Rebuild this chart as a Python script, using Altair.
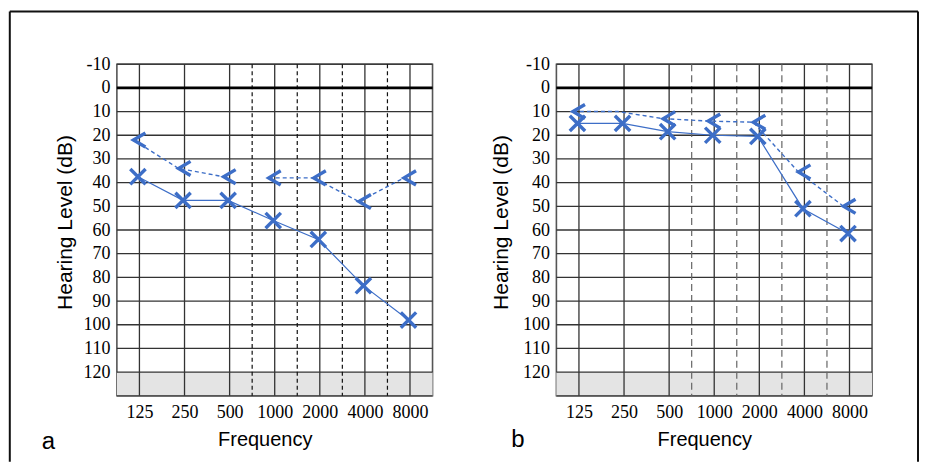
import altair as alt
import pandas as pd

# ---------------- data ----------------
freq_labels = ["125", "250", "500", "1000", "2000", "4000", "8000"]
octave_pos = [0, 1, 2, 3, 4, 5, 6]            # position of each test frequency (octave index)
mid_pos = [2.5, 3.5, 4.5, 5.5]                # half-octave (dashed) lines
db_lines = list(range(-10, 131, 10))          # hearing-level grid lines
db_ticks = list(range(-10, 121, 10))

# panel a
a_air = [37.5, 47.5, 47.5, 56, 64, 83.5, 98]
a_bone = [22, 34, 37.5, 38, 38, 48, 38]
a_bone_seg = [0, 0, 0, 1, 1, 1, 1]
a_bone_shown = [True, True, True, True, True, True, True]

# panel b
b_air = [15, 15, 18.5, 20, 20.5, 51, 61.5]
b_bone = [10, 10, 13, 14, 14.5, 35.5, 50]
b_bone_seg = [0, 0, 0, 0, 0, 0, 0]
b_bone_shown = [True, False, True, True, True, True, True]

# ---------------- style ----------------
BLUE = "#3d6ec7"
GRID = "#333333"
W, H = 316, 332

xscale = alt.Scale(domain=[-0.5, 6.5], nice=False, zero=False)
yscale = alt.Scale(domain=[-10, 130], reverse=True, nice=False, zero=False)

label_expr = "[" + ",".join("'%s'" % s for s in freq_labels) + "][datum.value]"

X_SHAPE = "M-1,-1L1,1M-1,1L1,-1"
LT_SHAPE = "M1.7,-1L0,0L1.7,1"


def panel(letter, air, bone, seg, shown, dash_color, dash_pattern,
          ytitle_x, letter_x, letter_y, frame=False):
    df = pd.DataFrame({"pos": octave_pos, "air": air, "bone": bone,
                       "seg": seg, "shown": shown})
    base = alt.Chart(df)

    yaxis = alt.Axis(values=db_ticks, labelExpr="'' + datum.value", ticks=False,
                     domain=False, grid=False,
                     labelPadding=7, labelFlush=False, labelOverlap=False,
                     title="Hearing Level (dB)", titleFontSize=21,
                     titleX=ytitle_x, titleY=158, titleAngle=270,
                     titleAlign="center", titleBaseline="middle")
    xaxis = alt.Axis(values=octave_pos, labelExpr=label_expr, ticks=False,
                     domain=False, grid=False, labelPadding=8, labelFlush=False,
                     labelOverlap=False, title="Frequency", titleFontSize=20,
                     titleX=W / 2 - 10, titleY=44, titleAlign="center",
                     titleBaseline="middle")

    def X(field):
        return alt.X(field, scale=xscale, axis=xaxis)

    def Y(field):
        return alt.Y(field, scale=yscale, axis=yaxis)

    shade = alt.Chart(pd.DataFrame({"pos": [-0.5], "pos2": [6.5], "db": [120], "db2": [130]})).mark_rect(
        color="#e4e4e4").encode(x=X("pos:Q"), x2="pos2:Q", y=Y("db:Q"), y2="db2:Q")

    hgrid = alt.Chart(pd.DataFrame({"db": db_lines})).mark_rule(
        color=GRID, strokeWidth=1.3).encode(
        y=Y("db:Q"), x=alt.value(0), x2=alt.value(W))

    vgrid = alt.Chart(pd.DataFrame({"pos": octave_pos})).mark_rule(
        color=GRID, strokeWidth=1.3).encode(
        x=X("pos:Q"), y=alt.value(0), y2=alt.value(H))

    vdash = alt.Chart(pd.DataFrame({"pos": mid_pos})).mark_rule(
        color=dash_color, strokeWidth=1.2, strokeDash=dash_pattern).encode(
        x=X("pos:Q"), y=alt.value(0), y2=alt.value(H))

    zero = alt.Chart(pd.DataFrame({"db": [0]})).mark_rule(
        color="black", strokeWidth=2.6).encode(
        y=Y("db:Q"), x=alt.value(0), x2=alt.value(W))

    bone_line = base.mark_line(color=BLUE, strokeWidth=1.4, strokeDash=[4, 3],
                               xOffset=-6).encode(
        x=X("pos:Q"), y=Y("bone:Q"), detail="seg:N")

    air_line = base.mark_line(color=BLUE, strokeWidth=1.2, xOffset=-1.5).encode(
        x=X("pos:Q"), y=Y("air:Q"))

    air_marks = base.mark_point(shape=X_SHAPE, size=235, filled=False, strokeWidth=3.4,
                                color=BLUE, opacity=1, xOffset=-1.5).encode(
        x=X("pos:Q"), y=Y("air:Q"))

    bone_marks = base.transform_filter("datum.shown").mark_point(
        shape=LT_SHAPE, size=200, filled=False, strokeWidth=3.4, color=BLUE,
        opacity=1, xOffset=-6).encode(
        x=X("pos:Q"), y=Y("bone:Q"))

    tag = alt.Chart(pd.DataFrame({"t": [letter]})).mark_text(
        font="Liberation Sans", fontSize=24, align="center", baseline="alphabetic",
        color="black").encode(text="t:N", x=alt.value(letter_x), y=alt.value(letter_y))

    layers = [shade, hgrid, vgrid, vdash, zero, bone_line, air_line,
              air_marks, bone_marks, tag]

    if frame:
        fl, ft, fr, fb = -107.2, -52.8, 802.0, 398.0
        left = alt.Chart(pd.DataFrame({"k": [0]})).mark_rule(
            color="#111111", strokeWidth=2).encode(
            x=alt.value(fl), y=alt.value(ft), y2=alt.value(fb))
        top = alt.Chart(pd.DataFrame({"k": [0]})).mark_rule(
            color="#111111", strokeWidth=2).encode(
            y=alt.value(ft), x=alt.value(fl), x2=alt.value(fr))
        right = alt.Chart(pd.DataFrame({"k": [0]})).mark_rule(
            color="#111111", strokeWidth=2).encode(
            x=alt.value(fr), y=alt.value(ft), y2=alt.value(fb))
        layers += [left, top, right]

    return alt.layer(*layers).properties(width=W, height=H)


pa = panel("a", a_air, a_bone, a_bone_seg, a_bone_shown, "#111111", [4, 3],
           -51.5, -68.5, 385.5, frame=True)
pb = panel("b", b_air, b_bone, b_bone_seg, b_bone_shown, "#666666", [7, 4],
           -55, -38.5, 383.5)

chart = alt.hconcat(pa, pb, spacing=124, bounds="flush").properties(
    padding={"left": 0, "top": 1, "right": 0, "bottom": 0},
    background="white",
).configure_view(
    stroke="#555555", strokeWidth=1.6
).configure_axis(
    labelFont="Liberation Serif", labelFontSize=18, labelColor="black",
    titleFont="Liberation Sans", titleFontWeight="normal", titleColor="black"
)

chart.save("out.html", embed_options={"renderer": "svg", "actions": False})
